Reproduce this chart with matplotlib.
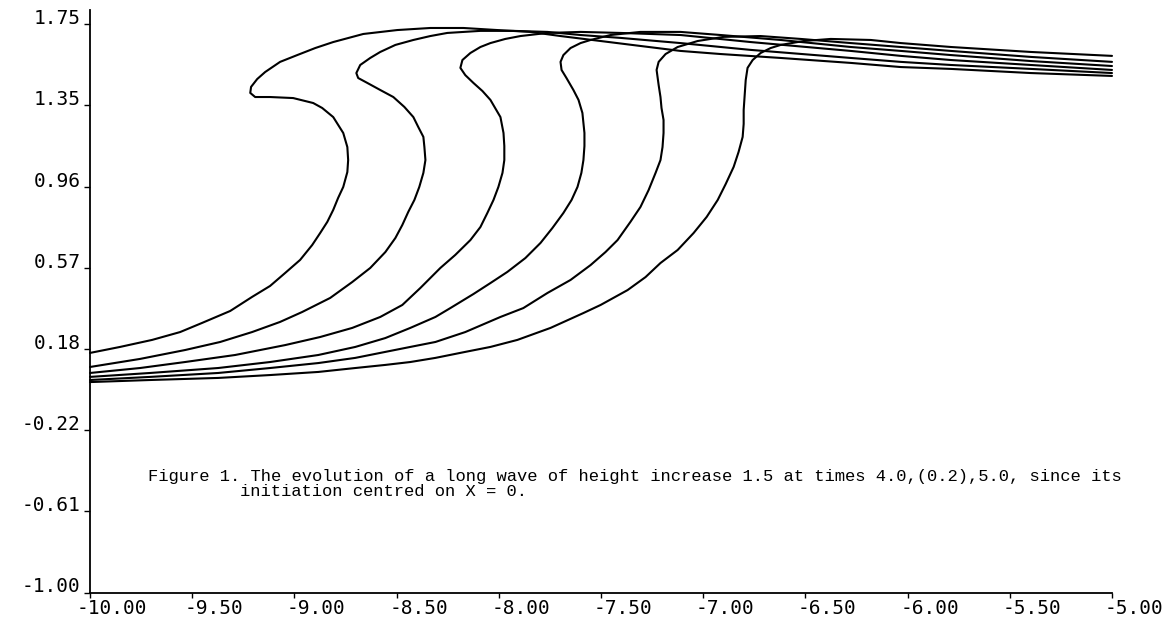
import matplotlib
matplotlib.use("Agg")
import matplotlib.pyplot as plt
from matplotlib.transforms import ScaledTranslation

# ---- data ----
x_ticks = [-10.0, -9.5, -9.0, -8.5, -8.0, -7.5, -7.0, -6.5, -6.0, -5.5, -5.0]
x_tick_labels = ["-10.00", "-9.50", "-9.00", "-8.50", "-8.00", "-7.50",
                 "-7.00", "-6.50", "-6.00", "-5.50", "-5.00"]
y_ticks = [-1.0, -0.607, -0.214, 0.179, 0.571, 0.964, 1.357, 1.75]
y_tick_labels = ["-1.00", "-0.61", "-0.22", "0.18", "0.57", "0.96", "1.35", "1.75"]

# t = 5.0 (leftmost, most overturned)
c1_x = [-10.000, -9.853, -9.696, -9.559, -9.452, -9.314, -9.207, -9.119, -9.045, -8.972,
        -8.913, -8.874, -8.839, -8.810, -8.786, -8.761, -8.741, -8.737, -8.741, -8.761,
        -8.810, -8.864, -8.908, -9.006, -9.119, -9.192, -9.216, -9.212, -9.182, -9.143,
        -9.070, -8.986, -8.898, -8.810, -8.663, -8.497, -8.335, -8.173, -8.007, -7.845,
        -7.698, -7.502, -7.307, -7.111, -6.915, -6.621, -6.278, -6.033, -5.788, -5.397, -5.000]
c1_y = [0.159, 0.188, 0.222, 0.260, 0.304, 0.362, 0.430, 0.483, 0.546, 0.609,
        0.681, 0.739, 0.793, 0.851, 0.909, 0.962, 1.034, 1.092, 1.155, 1.223,
        1.300, 1.344, 1.368, 1.392, 1.397, 1.397, 1.417, 1.446, 1.484, 1.518,
        1.567, 1.600, 1.634, 1.663, 1.702, 1.721, 1.731, 1.731, 1.721, 1.712,
        1.692, 1.668, 1.644, 1.620, 1.605, 1.586, 1.562, 1.542, 1.533, 1.513, 1.499]

# t = 4.8
c2_x = [-10.000, -9.755, -9.535, -9.363, -9.207, -9.070, -8.962, -8.825, -8.717, -8.629,
        -8.555, -8.506, -8.472, -8.443, -8.413, -8.389, -8.369, -8.359, -8.364, -8.369,
        -8.394, -8.418, -8.462, -8.516, -8.580, -8.643, -8.688, -8.697, -8.678, -8.629,
        -8.580, -8.506, -8.418, -8.335, -8.252, -8.090, -7.928, -7.762, -7.600, -7.404,
        -7.111, -6.768, -6.278, -6.033, -5.788, -5.397, -5.000]
c2_y = [0.091, 0.130, 0.173, 0.212, 0.260, 0.309, 0.357, 0.425, 0.502, 0.570,
        0.647, 0.715, 0.778, 0.841, 0.899, 0.962, 1.030, 1.092, 1.155, 1.204,
        1.252, 1.300, 1.349, 1.397, 1.431, 1.465, 1.489, 1.513, 1.552, 1.586,
        1.615, 1.649, 1.673, 1.692, 1.707, 1.717, 1.717, 1.712, 1.697, 1.683,
        1.658, 1.625, 1.586, 1.567, 1.552, 1.533, 1.513]

# t = 4.6
c3_x = [-10.000, -9.755, -9.535, -9.290, -9.045, -8.874, -8.717, -8.580, -8.472, -8.384,
        -8.286, -8.213, -8.139, -8.090, -8.056, -8.026, -8.002, -7.982, -7.973, -7.973,
        -7.977, -7.992, -8.041, -8.080, -8.124, -8.164, -8.188, -8.178, -8.139, -8.090,
        -8.041, -7.968, -7.894, -7.762, -7.600, -7.404, -7.111, -6.768, -6.278, -6.033,
        -5.788, -5.397, -5.000]
c3_y = [0.062, 0.086, 0.115, 0.149, 0.197, 0.236, 0.280, 0.333, 0.391, 0.473,
        0.570, 0.633, 0.705, 0.768, 0.836, 0.899, 0.962, 1.030, 1.092, 1.160,
        1.223, 1.300, 1.383, 1.426, 1.465, 1.503, 1.538, 1.576, 1.610, 1.639,
        1.658, 1.678, 1.692, 1.707, 1.712, 1.707, 1.697, 1.663, 1.620, 1.596,
        1.576, 1.552, 1.528]

# t = 4.4
c4_x = [-10.000, -9.706, -9.373, -9.119, -8.883, -8.702, -8.555, -8.433, -8.310, -8.237,
        -8.124, -8.041, -7.958, -7.870, -7.796, -7.738, -7.684, -7.644, -7.615, -7.596,
        -7.586, -7.581, -7.581, -7.591, -7.610, -7.635, -7.669, -7.693, -7.698, -7.684,
        -7.649, -7.600, -7.551, -7.453, -7.307, -7.111, -6.915, -6.621, -6.278, -6.033,
        -5.788, -5.397, -5.000]
c4_y = [0.043, 0.062, 0.086, 0.115, 0.149, 0.188, 0.231, 0.280, 0.333, 0.376,
        0.444, 0.497, 0.551, 0.618, 0.691, 0.763, 0.836, 0.899, 0.962, 1.030,
        1.092, 1.160, 1.223, 1.320, 1.383, 1.431, 1.489, 1.528, 1.567, 1.600,
        1.634, 1.658, 1.673, 1.697, 1.712, 1.712, 1.697, 1.673, 1.639, 1.620,
        1.600, 1.571, 1.547]

# t = 4.2
c5_x = [-10.000, -9.706, -9.373, -9.119, -8.883, -8.702, -8.555, -8.433, -8.310, -8.164,
        -7.992, -7.880, -7.762, -7.649, -7.551, -7.478, -7.419, -7.356, -7.307, -7.267,
        -7.233, -7.209, -7.199, -7.194, -7.194, -7.204, -7.209, -7.218, -7.228, -7.218,
        -7.184, -7.125, -7.027, -6.900, -6.719, -6.523, -6.278, -6.033, -5.788, -5.397,
        -5.000]
c5_y = [0.028, 0.043, 0.062, 0.086, 0.110, 0.135, 0.164, 0.188, 0.212, 0.260,
        0.333, 0.376, 0.449, 0.512, 0.584, 0.647, 0.705, 0.793, 0.865, 0.947,
        1.030, 1.092, 1.155, 1.223, 1.286, 1.344, 1.397, 1.455, 1.528, 1.567,
        1.605, 1.639, 1.668, 1.688, 1.692, 1.678, 1.658, 1.639, 1.620, 1.591,
        1.567]

# t = 4.0 (rightmost)
c6_x = [-10.000, -9.706, -9.373, -9.119, -8.883, -8.702, -8.555, -8.433, -8.310, -8.164,
        -8.041, -7.909, -7.747, -7.586, -7.502, -7.370, -7.282, -7.209, -7.125, -7.047,
        -6.983, -6.929, -6.890, -6.851, -6.827, -6.807, -6.802, -6.802, -6.797, -6.792,
        -6.783, -6.758, -6.719, -6.670, -6.621, -6.508, -6.376, -6.180, -6.033, -5.788,
        -5.397, -5.000]
c6_y = [0.018, 0.028, 0.038, 0.052, 0.067, 0.086, 0.101, 0.115, 0.135, 0.164,
        0.188, 0.222, 0.280, 0.352, 0.391, 0.463, 0.526, 0.594, 0.657, 0.739,
        0.817, 0.899, 0.976, 1.059, 1.131, 1.204, 1.267, 1.334, 1.407, 1.479,
        1.538, 1.576, 1.610, 1.634, 1.649, 1.668, 1.678, 1.673, 1.658, 1.639,
        1.615, 1.596]

curves = [(c1_x, c1_y), (c2_x, c2_y), (c3_x, c3_y),
          (c4_x, c4_y), (c5_x, c5_y), (c6_x, c6_y)]

caption_line1 = ("Figure 1. The evolution of a long wave of height increase 1.5 "
                 "at times 4.0,(0.2),5.0, since its")
caption_line2 = "initiation centred on X = 0."

# ---- figure ----
fig = plt.figure(figsize=(11.7, 6.24), dpi=100)
ax = fig.add_axes([90 / 1170, 31.5 / 624, 1022 / 1170, 582.5 / 624])

for cx, cy in curves:
    ax.plot(cx, cy, color="black", lw=1.5, solid_joinstyle="round",
            solid_capstyle="round", clip_on=False)

ax.set_xlim(-10.0, -5.0)
ax.set_ylim(-1.0, 1.818)

for s in ("top", "right"):
    ax.spines[s].set_visible(False)
for s in ("left", "bottom"):
    ax.spines[s].set_linewidth(1.3)

tick_font = {"family": "DejaVu Sans Mono", "size": 14}
ax.set_xticks(x_ticks)
ax.set_xticklabels(x_tick_labels, fontdict=tick_font)
ax.set_yticks(y_ticks)
ax.set_yticklabels(y_tick_labels, fontdict=tick_font)
ax.tick_params(axis="x", direction="out", length=3.5, width=1.0, pad=1)
ax.tick_params(axis="y", direction="out", length=4, width=1.0, pad=3)

offset = ScaledTranslation(0.22, 0, fig.dpi_scale_trans)
for lbl in ax.get_xticklabels():
    lbl.set_transform(lbl.get_transform() + offset)
for lbl in ax.get_yticklabels():
    lbl.set_verticalalignment("baseline")

fig.text(148 / 1170, 1 - 476 / 624, caption_line1, family="Liberation Mono",
         fontsize=12.3, va="center", ha="left")
fig.text(240 / 1170, 1 - 491 / 624, caption_line2, family="Liberation Mono",
         fontsize=12.3, va="center", ha="left")

fig.savefig("out.png", dpi=100)
